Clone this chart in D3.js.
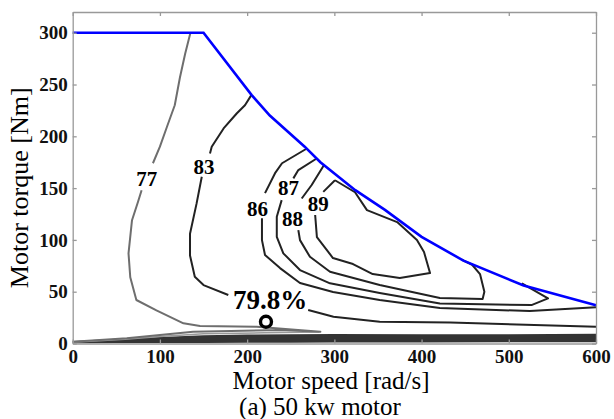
<!DOCTYPE html>
<html>
<head>
<meta charset="utf-8">
<script src="https://cdn.jsdelivr.net/npm/d3@7"></script>
<style>
  body { margin: 0; background: #fff; }
  svg { display: block; font-family: "Liberation Serif", "Times New Roman", serif; }
</style>
</head>
<body>
<svg id="chart" width="614" height="419"></svg>
<script>
// --- data ---
const speedTicks  = [0, 100, 200, 300, 400, 500, 600];
const torqueTicks = [0, 50, 100, 150, 200, 250, 300];

// max torque envelope (blue)
const envSpeed  = [0, 150, 205, 226, 266, 284, 324, 358, 400, 448, 517, 600];
const envTorque = [300, 300, 240, 220, 190, 175, 148, 129, 103, 80, 56, 37];

// efficiency contours, [speed, torque]; null = gap left for the label
const c77 = [[135, 300], [129, 280], [123, 257], [117, 230], [108, 209], [100, 190], [92, 174], null,
             [79, 148], [75, 137], [68, 119], [64, 87], [66, 64], [73, 42], [96, 32], [127, 19.5],
             [146, 17], [211, 16.2], [284, 11.4], [238, 13], [138, 11.4], [100, 8.2], [62, 5], [0, 1.7]];
const c83 = [[205, 240], [197.5, 230], [188, 222], [173, 207.6], [159.4, 190], [157.4, 183.5], null,
             [148, 161], [142, 135], [134.5, 106], [134.5, 85], [140, 64.4], [150, 56.4], [178.4, 46.8], null,
             [270, 32.3], [299, 25.9], [352, 21], [433, 20.3], [600, 16.2]];
const c86 = [[268, 188], [240, 174], [232, 164.4], [220.5, 145.2], null,
             [217, 121], [217, 99.8], [220.5, 85.4], [237.7, 72.8], [260.6, 58.4], [298.5, 49.7],
             [352, 42], [421, 34.2], [524, 31.3], [600, 35]];
const c87 = [[279.7, 178.6], [258.7, 167.4], [253, 159.4], null,
             [239.6, 138.4], [234, 122.3], [234, 103], [241.5, 87], [260.6, 70.9], [295, 58.1],
             [352, 48.7], [421, 38.6], [526, 37.1], [545, 43.6], [515, 58]];
const c88 = [[288, 172], [274, 153], [262.6, 140], null,
             [258.7, 109.5], [260.6, 99.8], [272, 83.7], [295, 69.3], [352, 56.4], [421, 43.9],
             [470, 43], [472, 50], [467, 67], [458, 76], [446, 81]];
const c89 = [[300.7, 157.6], [323.7, 146], [337.4, 128.7], [372, 117.2], [394.7, 99.8], [402.8, 88.3],
             [409.7, 68], [375, 63.2], [344, 67], [321.4, 76.7], [298.4, 82.5], [280, 102.7], [278, 124], null,
             [287.3, 146.4], [300.7, 157.6]];
const cLow = [[0, 1.2], [60, 4], [100, 6.8], [150, 9.3], [220, 10.3], [283, 11]];

// dense low-torque band
const bandSpeed = [0, 50, 100, 150, 200, 250, 300, 400, 500, 600];
const bandHi    = [2.5, 4.5, 6.3, 8, 8.6, 9, 9.2, 9, 9, 9.5];
const bandLo    = [0.3, 0.4, 0.5, 0.6, 0.7, 0.8, 0.9, 1, 1.1, 1.2];

const labelText   = ['77', '83', '86', '87', '88', '89'];
const labelSpeed  = [84.8, 150.5, 211.9, 247.4, 252, 281.6];
const labelTorque = [159.6, 170.7, 130.4, 150.5, 120.1, 134.6];

const opSpeed = 221.6, opTorque = 21;
const opText = '79.8%', opTextSpeed = 226.3, opTextTorque = 42;

// --- layout ---
const W = 614, H = 419;
const margin = { top: 12, right: 18, bottom: 75.5, left: 72.7 };
const svg = d3.select('#chart');

const x = d3.scaleLinear([0, 600], [margin.left, W - margin.right]);
const y = d3.scaleLinear([0, 320], [H - margin.bottom, margin.top]);

const line = d3.line().defined(d => d).x(d => x(d[0])).y(d => y(d[1]));

// band
const band = bandSpeed.map((s, i) => ({ s, lo: bandLo[i], hi: bandHi[i] }));
svg.append('path')
  .datum(band)
  .attr('fill', '#333')
  .attr('d', d3.area().x(d => x(d.s)).y0(d => y(d.lo)).y1(d => y(d.hi)));

// contours
function contour(pts, color, w) {
  svg.append('path')
    .datum(pts)
    .attr('fill', 'none')
    .attr('stroke', color)
    .attr('stroke-width', w)
    .attr('stroke-linejoin', 'round')
    .attr('d', line);
}
contour(cLow, '#999', 1.5);
contour(c77, '#6e6e6e', 2);
contour(c83, '#222', 2);
contour(c86, '#222', 2);
contour(c87, '#222', 2);
contour(c88, '#222', 2);
contour(c89, '#222', 2);

// envelope
svg.append('path')
  .datum(envSpeed.map((s, i) => [s, envTorque[i]]))
  .attr('fill', 'none')
  .attr('stroke', '#0000ff')
  .attr('stroke-width', 2.6)
  .attr('d', line);

// contour labels
svg.selectAll('text.clabel')
  .data(labelText)
  .join('text')
  .attr('class', 'clabel')
  .attr('x', (d, i) => x(labelSpeed[i]))
  .attr('y', (d, i) => y(labelTorque[i]))
  .attr('dy', '0.35em')
  .attr('text-anchor', 'middle')
  .attr('font-weight', 'bold')
  .attr('font-size', 21)
  .text(d => d);

// operating point
svg.append('text')
  .attr('x', x(opTextSpeed))
  .attr('y', y(opTextTorque))
  .attr('dy', '0.35em')
  .attr('text-anchor', 'middle')
  .attr('font-weight', 'bold')
  .attr('font-size', 27)
  .text(opText);
svg.append('circle')
  .attr('cx', x(opSpeed))
  .attr('cy', y(opTorque))
  .attr('r', 5.5)
  .attr('fill', '#fff')
  .attr('stroke', '#000')
  .attr('stroke-width', 3.4);

// axes
const gx = svg.append('g')
  .attr('transform', `translate(0,${H - margin.bottom})`)
  .call(d3.axisBottom(x).tickValues(speedTicks).tickSizeInner(-4).tickSizeOuter(0).tickPadding(6));
const gy = svg.append('g')
  .attr('transform', `translate(${margin.left},0)`)
  .call(d3.axisLeft(y).tickValues(torqueTicks).tickSizeInner(-4).tickSizeOuter(0).tickPadding(5));
const gt = svg.append('g')
  .attr('transform', `translate(0,${margin.top})`)
  .call(d3.axisTop(x).tickValues(speedTicks).tickSizeInner(-4).tickSizeOuter(0).tickFormat(''));
const gr = svg.append('g')
  .attr('transform', `translate(${W - margin.right},0)`)
  .call(d3.axisRight(y).tickValues(torqueTicks).tickSizeInner(-4).tickSizeOuter(0).tickFormat(''));

[gx, gy, gt, gr].forEach(g => {
  g.selectAll('path.domain').attr('stroke', '#999').attr('stroke-width', 1.3);
  g.selectAll('line').attr('stroke', '#999').attr('stroke-width', 1.3);
  g.selectAll('text')
    .attr('font-family', '"Liberation Serif", serif')
    .attr('font-weight', 'bold')
    .attr('font-size', 19)
    .attr('fill', '#111');
});

// titles
svg.append('text')
  .attr('x', 331).attr('y', 389)
  .attr('text-anchor', 'middle')
  .attr('font-size', 25)
  .text('Motor speed [rad/s]');
svg.append('text')
  .attr('x', 320).attr('y', 415)
  .attr('text-anchor', 'middle')
  .attr('font-size', 25)
  .text('(a) 50 kw motor');
svg.append('text')
  .attr('transform', `translate(28,${(margin.top + H - margin.bottom) / 2 + 10}) rotate(-90)`)
  .attr('text-anchor', 'middle')
  .attr('font-size', 26)
  .text('Motor torque [Nm]');
</script>
</body>
</html>
